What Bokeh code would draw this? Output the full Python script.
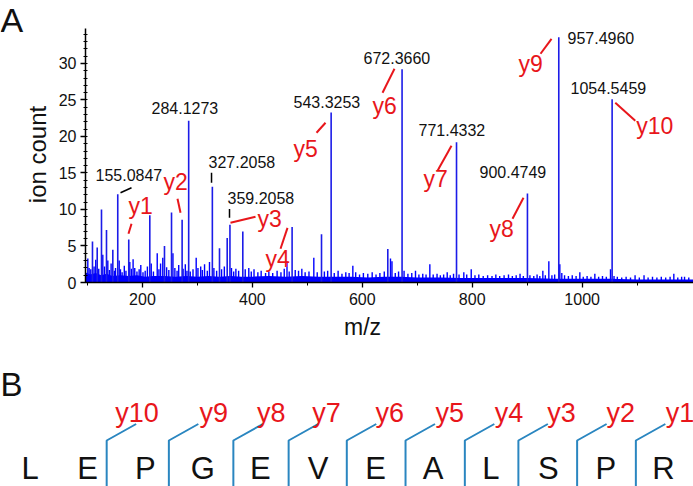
from bokeh.plotting import figure
from bokeh.models import ColumnDataSource, LabelSet, Range1d, FixedTicker
from bokeh.layouts import column, row
from bokeh.embed import file_html
from bokeh.resources import INLINE
from bokeh.core.properties import value
import math

# ---------------- data ----------------
# labelled fragment peaks
ion_mz = [155.0847, 284.1273, 327.2058, 359.2058, 543.3253, 672.3660,
          771.4332, 900.4749, 957.4960, 1054.5459]
ion_h = [12.1, 22.15, 13.1, 7.9, 23.3, 29.2, 19.2, 12.2, 33.6, 25.1]

# other strong peaks
major_mz = [109.1, 117.7, 125.5, 134.6, 146.1, 175.1, 213.4, 240.1, 252.9,
            272.2, 340.2, 354.2, 382.6, 472.3, 525.8, 646.4]
major_h = [5.6, 4.8, 10.0, 7.2, 4.5, 5.9, 9.2, 5.0, 9.6,
           8.6, 4.7, 6.1, 7.0, 7.6, 6.6, 4.6]

# small peaks, low m/z
low_mz = [100.6, 103, 106, 112, 115, 120.5, 127.9, 131, 137, 140, 143, 149, 151,
          157.7, 160, 163, 167, 170, 177, 180, 183, 186, 190, 194, 197, 201, 205,
          209, 216, 220, 226.9, 230, 233, 237, 244, 248, 255.5, 259, 263, 266,
          274, 278, 281, 287, 292, 297.8, 301, 306, 309, 313, 318, 322, 330, 335,
          344, 349, 362, 366, 370, 375, 387, 393.5, 398]
low_h = [3.3, 2.0, 1.8, 2.2, 3.1, 1.9, 3.8, 2.2, 3.0, 1.7, 2.6, 1.6, 2.0,
         3.0, 1.8, 1.4, 2.3, 1.6, 2.8, 1.9, 3.2, 2.0, 1.5, 1.8, 2.4, 1.4, 1.6,
         2.2, 2.6, 1.5, 4.0, 1.8, 2.6, 3.4, 2.1, 1.7, 4.0, 2.0, 1.6, 2.4,
         1.9, 2.5, 1.6, 1.5, 1.8, 3.4, 2.0, 2.2, 1.7, 2.5, 1.6, 2.8, 2.0, 1.6,
         1.8, 2.2, 2.0, 1.5, 1.9, 1.6, 1.8, 2.0, 1.5]

# small peaks, middle m/z
mid_mz = [403, 410, 416, 424, 430, 437, 445, 452, 458, 463, 467, 478, 484, 490,
          496, 503, 511.8, 518, 531, 537, 549, 556, 563, 570, 576, 582.8, 588,
          595, 602, 610, 618, 625, 632, 640, 651.3, 654, 660, 666, 676, 683, 690,
          696.8, 703, 710, 716, 722.9, 729, 736, 742, 748, 754.5, 760, 766, 776,
          784.7, 790, 798.2]
mid_h = [1.8, 1.4, 1.6, 1.3, 1.5, 1.3, 1.6, 1.4, 1.9, 2.9, 1.5, 1.7, 1.6, 1.9,
         1.4, 1.5, 3.4, 1.4, 1.5, 1.6, 1.3, 1.6, 1.2, 1.4, 1.3, 2.3, 1.4,
         1.1, 1.3, 1.2, 1.4, 1.1, 1.3, 1.5, 3.3, 2.9, 1.3, 1.5, 1.6, 1.2, 1.3,
         1.6, 1.1, 1.2, 1.1, 2.5, 1.1, 1.2, 1.0, 1.1, 1.4, 1.0, 1.2, 1.1,
         1.4, 1.1, 1.8]

# small peaks, high m/z
high_mz = [805, 812, 820, 828, 836, 843, 850, 858, 866, 873, 880, 887, 893, 905,
           912, 918, 923, 928.5, 933, 939.4, 945, 950, 959.4, 963, 968, 975, 982,
           989, 995.8, 1002, 1009, 1016, 1023.1, 1030, 1037, 1044, 1051.6, 1058,
           1064, 1072, 1080, 1088, 1096.3, 1104, 1112.6, 1120, 1128, 1136, 1144,
           1152, 1160, 1166.8, 1174, 1181, 1186.3, 1194]
high_h = [1.0, 1.1, 0.9, 1.0, 0.9, 1.1, 0.9, 1.0, 1.1, 0.9, 1.0, 1.2, 0.9, 1.0,
          0.9, 1.1, 0.9, 1.6, 1.0, 2.9, 1.0, 1.1, 2.5, 1.3, 1.0, 0.9, 1.0,
          0.9, 1.4, 0.8, 0.9, 0.8, 1.2, 0.8, 0.9, 0.8, 1.8, 0.9,
          0.8, 0.7, 0.8, 0.7, 1.0, 0.7, 1.0, 0.7, 0.8, 0.7, 0.8,
          0.7, 0.8, 1.2, 0.7, 0.8, 0.8, 0.7]

# baseline noise band
env_mz = [96, 105, 115, 125, 135, 145, 160, 175, 190, 205, 220, 240, 260, 280,
          300, 320, 340, 360, 380, 400, 430, 460, 490, 520, 550, 580, 610, 640,
          670, 700, 740, 780, 820, 860, 900, 950, 1000, 1050, 1100, 1150, 1205]
env_h = [1.4, 1.1, 1.3, 1.0, 1.2, 0.9, 1.0, 0.9, 1.0, 0.8, 0.9, 0.9, 0.8, 0.9,
         0.8, 0.9, 0.8, 0.9, 0.8, 0.8, 0.9, 0.8, 0.9, 0.8, 0.8, 0.8, 0.7, 0.8,
         0.8, 0.7, 0.7, 0.6, 0.6, 0.6, 0.6, 0.5, 0.5, 0.5, 0.4, 0.4, 0.4]

x_ticks = [200, 400, 600, 800, 1000]
x_minor = [100, 300, 500, 700, 900, 1100]
y_ticks = [0, 5, 10, 15, 20, 25, 30]
y_minor = list(range(0, 35))

# annotation anchors (data units)
num_x = [114.6, 216.5, 320.2, 354.8, 474.9, 602.2, 702.3, 813.3, 973.4, 978.9]
num_y = [13.93, 23.11, 15.71, 10.78, 23.93, 29.96, 20.10, 14.34, 32.70, 25.85]
tick_x0 = [160.1, 325.7, 358.4]
tick_y0 = [12.29, 15.03, 10.08]
tick_x1 = [180.1, 325.7, 358.4]
tick_y1 = [12.97, 13.66, 8.86]

yion_names = ["y1", "y2", "y3", "y4", "y5", "y6", "y7", "y8", "y9", "y10"]
yion_x = [174.6, 238.3, 409.4, 423.9, 474.9, 618.6, 711.4, 831.5, 884.3, 1098.5]
yion_y = [9.34, 12.63, 7.56, 2.15, 17.15, 23.04, 13.04, 6.19, 28.79, 20.30]
lead_x0 = [174.6, 263.8, 360.2, 451.2, 516.7, 636.8, 736.9, 873.3, 924.3, 1060.3]
lead_y0 = [6.67, 11.47, 8.18, 4.62, 20.51, 25.99, 15.30, 8.73, 31.33, 24.62]
lead_x1 = [180.1, 269.3, 405.7, 463.9, 533.1, 658.6, 762.3, 893.3, 944.3, 1096.7]
lead_y1 = [8.04, 9.55, 9.00, 7.49, 21.88, 29.27, 18.73, 11.60, 33.38, 22.15]

# panel B: peptide
residues = ["L", "E", "P", "G", "E", "V", "E", "A", "L", "S", "P", "R"]
cut_pos = [1.33, 2.41, 3.53, 4.49, 5.50, 6.52, 7.55, 8.48, 9.50, 10.52]
cut_names = ["y10", "y9", "y8", "y7", "y6", "y5", "y4", "y3", "y2", "y1"]
cut_label_x = [1.48, 2.94, 3.94, 4.90, 6.00, 7.04, 8.07, 8.98, 10.01, 11.04]

# ---------------- styles ----------------
FONT = "Liberation Sans"
PEAK = "#1c1ce8"
RED = "#e8161b"
HOOK = "#2a86c0"
INK = "#111111"


def labels(fig, xs, ys, texts, size, color, align="left",
           baseline="alphabetic", angle=0.0):
    src = ColumnDataSource(dict(x=list(xs), y=list(ys), t=list(texts)))
    fig.add_layout(LabelSet(x="x", y="y", text="t", source=src, angle=angle,
                            text_font=value(FONT), text_font_size=value(size),
                            text_color=color, text_align=align,
                            text_baseline=baseline))


def bare(fig):
    fig.outline_line_color = None
    fig.grid.visible = False


# ---------------- left strip: panel letter and y label ----------------
pL = figure(width=50, height=314, x_range=Range1d(0, 50),
            y_range=Range1d(0, 314), output_backend="svg",
            toolbar_location=None, min_border=0,
            x_axis_location=None, y_axis_location=None)
pL.frame_align = False
bare(pL)
labels(pL, [0], [314], ["A"], "34px", INK, baseline="top")
labels(pL, [37], [160], ["ion count"], "24px", INK, align="center",
       baseline="middle", angle=math.pi / 2)

# ---------------- panel A ----------------
pA = figure(width=643, height=314, x_range=Range1d(96.4, 1202.6),
            y_range=Range1d(0, 34.79), output_backend="svg",
            toolbar_location=None, min_border_left=35, min_border_right=0,
            min_border_top=28, min_border_bottom=32)
pA.frame_align = False
bare(pA)

pA.varea(x=env_mz, y1=[0] * len(env_mz), y2=env_h, fill_color="#0000ff")

all_small_mz = low_mz + mid_mz + high_mz
all_small_h = low_h + mid_h + high_h
pA.segment(x0=all_small_mz, y0=[0] * len(all_small_mz), x1=all_small_mz,
           y1=all_small_h, line_color="#0000ff", line_width=1.4)
pA.segment(x0=major_mz, y0=[0] * len(major_mz), x1=major_mz, y1=major_h,
           line_color=PEAK, line_width=1.6)
pA.segment(x0=ion_mz, y0=[0] * len(ion_mz), x1=ion_mz, y1=ion_h,
           line_color=PEAK, line_width=1.6)

pA.segment(x0=tick_x0, y0=tick_y0, x1=tick_x1, y1=tick_y1,
           line_color="black", line_width=1.5)
pA.segment(x0=lead_x0, y0=lead_y0, x1=lead_x1, y1=lead_y1,
           line_color=RED, line_width=2)

labels(pA, num_x, num_y, ["%.4f" % m for m in ion_mz], "16px", INK)
labels(pA, yion_x, yion_y, yion_names, "23px", RED)

for ax in (pA.xaxis[0], pA.yaxis[0]):
    ax.axis_line_width = 1.5
    ax.axis_line_color = "black"
    ax.major_tick_line_color = "black"
    ax.minor_tick_line_color = "black"
    ax.major_tick_line_width = 1.3
    ax.major_label_text_font = FONT
    ax.major_label_text_font_size = "16px"
    ax.major_label_text_color = INK

pA.xaxis.ticker = FixedTicker(ticks=x_ticks, minor_ticks=x_minor)
pA.xaxis.major_tick_in = 0
pA.xaxis.major_tick_out = 5
pA.xaxis.minor_tick_in = 0
pA.xaxis.minor_tick_out = 3
pA.xaxis.major_label_standoff = 5

pA.yaxis.ticker = FixedTicker(ticks=y_ticks, minor_ticks=y_minor)
pA.yaxis.major_tick_in = 0
pA.yaxis.major_tick_out = 5
pA.yaxis.minor_tick_in = 2
pA.yaxis.minor_tick_out = 2
pA.yaxis.major_label_standoff = 4

# ---------------- panel B ----------------
pB = figure(width=693, height=172, x_range=Range1d(-0.514, 11.521),
            y_range=Range1d(0, 172), output_backend="svg",
            toolbar_location=None, min_border=0,
            x_axis_location=None, y_axis_location=None)
pB.frame_align = False
bare(pB)

labels(pB, [5.773], [152], ["m/z"], "23px", INK, align="center")
labels(pB, [-0.514], [91], ["B"], "33px", INK)
labels(pB, range(len(residues)), [8] * len(residues), residues, "31px", INK,
       align="center")

hook_dx = 0.512
xs = [[c, c, c + hook_dx] for c in cut_pos]
ys = [[-5, 46, 62.5] for c in cut_pos]
pB.multi_line(xs=xs, ys=ys, line_color=HOOK, line_width=2)

labels(pB, cut_label_x, [65] * len(cut_label_x), cut_names, "27px", RED)

layout = column(row(pL, pA), pB)
open("out.html", "w").write(file_html(layout, INLINE))
